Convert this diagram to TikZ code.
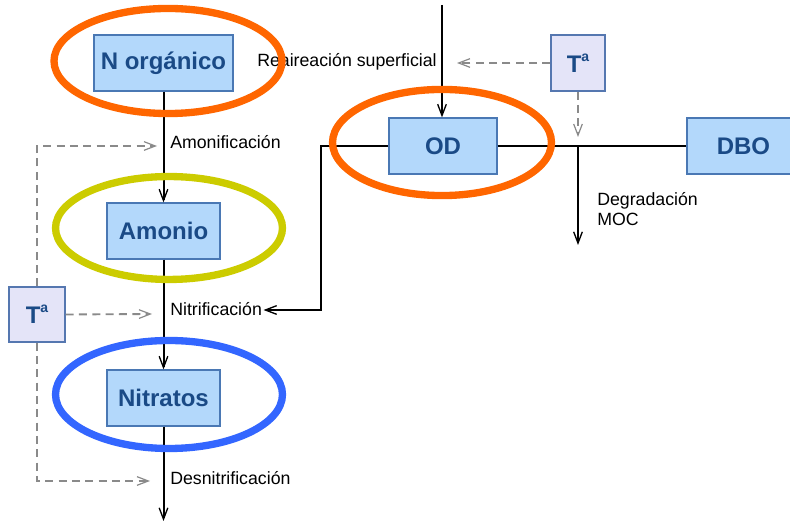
\documentclass[tikz,border=0pt]{standalone}
\usepackage{fontspec}
\setmainfont{Liberation Sans}
\usetikzlibrary{arrows.meta}
\definecolor{boxfill}{HTML}{B3D8FB}
\definecolor{boxdraw}{HTML}{4A78B4}
\definecolor{boxtext}{HTML}{1A4A86}
\definecolor{tfill}{HTML}{E4E4F8}
\definecolor{tdraw}{HTML}{5577B0}
\definecolor{ringorange}{HTML}{FF6600}
\definecolor{ringyellow}{HTML}{CCCC00}
\definecolor{ringblue}{HTML}{3366FF}
\definecolor{dashgray}{HTML}{8A8A8A}
\tikzset{
  mainbox/.style={draw=boxdraw, fill=boxfill, line width=0.9pt, inner sep=0pt,
    minimum height=42pt, text=boxtext, font=\fontsize{18}{20}\selectfont\bfseries},
  tbox/.style={draw=tdraw, fill=tfill, line width=0.9pt, inner sep=0pt,
    text=boxtext, font=\fontsize{18}{20}\selectfont\bfseries},
  lbl/.style={inner sep=0pt, font=\fontsize{13.3}{14.5}\selectfont},
  flow/.style={line width=1.5pt, black},
  flowarrow/.style={flow, -{Straight Barb[length=8.5pt,width=6.5pt,line width=1pt]}},
  ctrl/.style={line width=1.4pt, dashgray, dash pattern=on 6pt off 4pt,
    -{Straight Barb[length=8.5pt,width=6.5pt,line width=0.9pt]}},
  ring/.style={line width=5.5pt}
}
\newcommand{\Ta}{T\raisebox{0.45em}{\fontsize{10.5}{11}\selectfont a}}
\begin{document}
\begin{tikzpicture}[x=0.75pt,y=-0.75pt]
\useasboundingbox (0,0) rectangle (790,523);
\clip (0,0) rectangle (790,523);

% boxes
\node[mainbox, minimum width=104.25pt] (norg) at (163.5,63) {N orgánico};
\node[mainbox, minimum width=84.75pt] (amonio) at (163.5,231) {Amonio};
\node[mainbox, minimum width=84.75pt] (nitratos) at (163.5,398) {Nitratos};
\node[mainbox, minimum width=81pt] (od) at (443,146) {OD};
\node[mainbox, minimum width=84.75pt] (dbo) at (743.5,146) {DBO};
\node[tbox, minimum width=42pt, minimum height=41.25pt] (tleft) at (37,314.5) {\Ta};
\node[tbox, minimum width=40.5pt, minimum height=42pt] (tright) at (578,63) {\Ta};

% labels
\node[lbl, anchor=west] (amonif) at (170,142) {Amonificación};
\node[lbl, anchor=west] (nitrif) at (170,309) {Nitrificación};
\node[lbl, anchor=west] (desnit) at (170,478) {Desnitrificación};
\node[lbl, anchor=west] (reair) at (257,62) {Reaireación superficial};
\node[lbl, anchor=north west, align=left] (degr) at (597,192) {Degradación\\[0.5pt]MOC};

% coordinates
\coordinate (topin) at (442,5);
\coordinate (bottomout) at (163.5,521);
\coordinate (corner1) at (321,146);
\coordinate (corner2) at (321,310);
\coordinate (branch) at (578,146);
\coordinate (degrend) at (578,245);
\coordinate (reairend) at (457,63);
\coordinate (branchin) at (578,137);
\coordinate (lcornertop) at (37,146);
\coordinate (amonifin) at (157,146);
\coordinate (nitrifin) at (152,314);
\coordinate (lcornerbot) at (37,481);
\coordinate (desnitin) at (150,481);

% flows
\draw[flowarrow] (norg.south) -- (amonio.north);
\draw[flowarrow] (amonio.south) -- (nitratos.north);
\draw[flowarrow] (nitratos.south) -- (bottomout);
\draw[flowarrow] (topin) -- (od.north -| topin);
\draw[flow] (od.east) -- (dbo.west);
\draw[flowarrow] (od.west) -- (corner1) -- (corner2) -- ([xshift=1pt]nitrif.east |- corner2);
\draw[flowarrow] (branch) -- (degrend);

% control (temperature) arrows
\draw[ctrl] (tright.west) -- (reairend);
\draw[ctrl] (tright.south) -- (branchin);
\draw[ctrl] (tleft.north) -- (lcornertop) -- (amonifin);
\draw[ctrl] (tleft.east) -- (nitrifin);
\draw[ctrl] (tleft.south) -- (lcornerbot) -- (desnitin);

% highlight rings
\draw[ring, ringorange] (168,61) ellipse [x radius=85.5pt, y radius=39.4pt];
\draw[ring, ringyellow] (169,228) ellipse [x radius=85.1pt, y radius=38.6pt];
\draw[ring, ringblue] (169,394.5) ellipse [x radius=85.1pt, y radius=40.5pt];
\draw[ring, ringorange] (442,142.5) ellipse [x radius=82.1pt, y radius=39.8pt];
\end{tikzpicture}
\end{document}
